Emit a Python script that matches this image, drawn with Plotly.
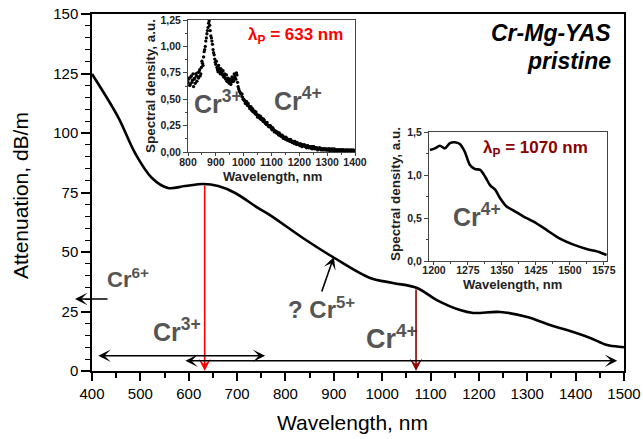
import plotly.graph_objects as go

# ---------------- data ----------------
main_wl = [400, 454, 489, 524, 557, 592, 630, 661, 696, 743, 768, 836, 898, 975,
           1022, 1072, 1113, 1161, 1188, 1244, 1300, 1347, 1382, 1430, 1465, 1496, 1500]
main_att = [124.8, 106.7, 91.6, 81.1, 76.9, 77.7, 78.6, 77.7, 74.8, 68.5, 65.5, 55.9, 47.9, 39.1,
            37.0, 34.9, 29.8, 25.6, 24.4, 24.8, 22.7, 19.3, 17.2, 13.9, 10.9, 10.1, 10.0]

in1_wl = list(range(800, 1401, 4))
in1_sd = [0.66, 0.70, 0.64, 0.72, 0.68, 0.62, 0.70, 0.74, 0.67, 0.71,
          0.76, 0.72, 0.80, 0.84, 0.90, 0.97, 1.05, 1.12, 1.18, 1.24,
          1.15, 1.08, 1.02, 0.94, 0.88, 0.83, 0.80, 0.76, 0.79, 0.74,
          0.77, 0.73, 0.71, 0.74, 0.69, 0.67, 0.70, 0.65, 0.68, 0.66,
          0.70, 0.67, 0.72, 0.69, 0.73, 0.62, 0.58, 0.56, 0.53, 0.52,
          0.50, 0.48, 0.47, 0.45, 0.46, 0.43, 0.42, 0.40, 0.41, 0.38,
          0.37, 0.38, 0.35, 0.34, 0.33, 0.34, 0.31, 0.30, 0.31, 0.28,
          0.27, 0.28, 0.25, 0.24, 0.25, 0.22, 0.23, 0.21, 0.20, 0.19,
          0.19, 0.17, 0.18, 0.16, 0.15, 0.15, 0.14, 0.13, 0.14, 0.12,
          0.12, 0.11, 0.12, 0.10, 0.10, 0.09, 0.10, 0.08, 0.09, 0.08,
          0.07, 0.08, 0.06, 0.07, 0.06, 0.06, 0.05, 0.06, 0.05, 0.05,
          0.04, 0.05, 0.04, 0.05, 0.04, 0.03, 0.04, 0.03, 0.04, 0.03,
          0.03, 0.02, 0.03, 0.03, 0.02, 0.03, 0.02, 0.03, 0.02, 0.02,
          0.03, 0.02, 0.02, 0.01, 0.02, 0.02, 0.01, 0.02, 0.02, 0.01,
          0.02, 0.01, 0.02, 0.01, 0.02, 0.01, 0.01, 0.02, 0.01, 0.01, 0.01]

in1b_wl = list(range(802, 1399, 4))
in1b_sd = [0.69, 0.63, 0.71, 0.66, 0.74, 0.69, 0.65, 0.72, 0.75, 0.70,
           0.78, 0.74, 0.86, 0.82, 0.95, 1.00, 1.08, 1.15, 1.22, 1.20,
           1.10, 1.05, 0.97, 0.92, 0.85, 0.86, 0.78, 0.82, 0.76, 0.79,
           0.75, 0.77, 0.72, 0.70, 0.73, 0.68, 0.66, 0.69, 0.64, 0.71,
           0.68, 0.74, 0.70, 0.75, 0.66, 0.60, 0.57, 0.54, 0.55, 0.50,
           0.49, 0.46, 0.48, 0.44, 0.44, 0.41, 0.43, 0.39, 0.38, 0.39,
           0.36, 0.36, 0.33, 0.35, 0.32, 0.31, 0.32, 0.29, 0.30, 0.27,
           0.26, 0.26, 0.24, 0.25, 0.23, 0.21, 0.22, 0.19, 0.20, 0.18,
           0.18, 0.16, 0.17, 0.15, 0.16, 0.13, 0.14, 0.12, 0.13, 0.11,
           0.12, 0.10, 0.11, 0.09, 0.10, 0.08, 0.09, 0.07, 0.08, 0.07,
           0.06, 0.07, 0.05, 0.06, 0.07, 0.05, 0.04, 0.06, 0.04, 0.05,
           0.04, 0.03, 0.05, 0.03, 0.04, 0.04, 0.02, 0.03, 0.04, 0.02,
           0.03, 0.03, 0.02, 0.03, 0.02, 0.02, 0.03, 0.01, 0.03, 0.02,
           0.01, 0.03, 0.02, 0.02, 0.01, 0.02, 0.02, 0.01, 0.02, 0.02,
           0.01, 0.01, 0.02, 0.01, 0.01, 0.02, 0.01, 0.01, 0.02, 0.01]

in2_wl = [1191, 1202, 1213, 1224, 1235, 1246, 1257, 1268, 1279, 1290, 1302, 1313, 1324,
          1335, 1346, 1361, 1375, 1397, 1419, 1449, 1478, 1508, 1537, 1567, 1581]
in2_sd = [1.29, 1.31, 1.34, 1.31, 1.37, 1.38, 1.36, 1.27, 1.12, 1.07, 1.06, 0.98, 0.88,
          0.83, 0.73, 0.63, 0.59, 0.52, 0.46, 0.36, 0.26, 0.19, 0.14, 0.10, 0.07]

in1_yticks = [0, 0.25, 0.5, 0.75, 1.0, 1.25]
in1_ytext = ["0,00", "0,25", "0,50", "0,75", "1,00", "1,25"]
in1_xticks = [800, 900, 1000, 1100, 1200, 1300, 1400]
in2_yticks = [0, 0.5, 1.0, 1.5]
in2_ytext = ["0,0", "0,5", "1,0", "1,5"]
in2_xticks = [1200, 1275, 1350, 1425, 1500, 1575]

pump1, pump2 = 633, 1070
pump1_att, pump2_att = 78.6, 34.9

# ---------------- layout helpers ----------------
L, R, T, B = 92, 624, 14, 371
W, H = 643, 439
def px(x):
    return (x - L) / (R - L)
def py(y):
    return (B - y) / (B - T)

FONT = "Liberation Sans, Arial, sans-serif"
GRAY = "#555555"
DRED = "#8b0000"

fig = go.Figure()
fig.add_trace(go.Scatter(x=main_wl, y=main_att, mode="lines",
                         line=dict(color="black", width=2.6, shape="spline", smoothing=1.0),
                         xaxis="x", yaxis="y", showlegend=False))
fig.add_trace(go.Scatter(x=in1_wl + in1b_wl, y=in1_sd + in1b_sd, mode="markers",
                         marker=dict(color="black", size=3.3),
                         xaxis="x2", yaxis="y2", showlegend=False, cliponaxis=True))
fig.add_trace(go.Scatter(x=in2_wl, y=in2_sd, mode="lines",
                         line=dict(color="black", width=2.6, shape="spline", smoothing=0.8),
                         xaxis="x3", yaxis="y3", showlegend=False))

inset_ax = dict(showline=True, mirror=True, linecolor="#444", linewidth=1, ticks="outside",
                tickcolor="#444", showgrid=False, zeroline=False, automargin=False)
inset_xfont = dict(family=FONT, size=10.5, color="#222", weight="bold")
inset_yfont = dict(family=FONT, size=10.5, color="#222", weight="bold")

fig.update_layout(
    template="none",
    width=W, height=H, margin=dict(l=L, r=W - R, t=T, b=H - B, pad=0, autoexpand=False),
    paper_bgcolor="white", plot_bgcolor="white",
    font=dict(family=FONT, color="black"),
    xaxis=dict(domain=[0, 1], range=[400, 1500], dtick=100, tick0=400, ticks="outside",
               ticklen=8, tickwidth=1.5, tickcolor="black", showline=True, mirror=True,
               linecolor="black", linewidth=1.5, showgrid=False, zeroline=False, automargin=False,
               tickfont=dict(family=FONT, size=15, color="black"),
               minor=dict(dtick=50, ticks="outside", ticklen=5, tickcolor="black", tickwidth=1.5)),
    yaxis=dict(domain=[0, 1], range=[0, 150], dtick=25, ticks="outside", ticklen=9,
               tickwidth=1.5, tickcolor="black", showline=True, mirror=True,
               linecolor="black", linewidth=1.5, showgrid=False, zeroline=False, automargin=False,
               tickfont=dict(family=FONT, size=15, color="black"),
               minor=dict(dtick=5, ticks="outside", ticklen=5, tickcolor="black", tickwidth=1.2)),
    xaxis2=dict(domain=[px(188), px(355)], anchor="y2", range=[800, 1400], ticklen=3,
                ticklabelstandoff=-3,
                tickvals=in1_xticks, ticktext=[str(v) for v in in1_xticks], tickfont=inset_xfont,
                minor=dict(dtick=50, ticks="outside", ticklen=2, tickcolor="#444"), **inset_ax),
    yaxis2=dict(domain=[py(152), py(20)], anchor="x2", range=[0, 1.25], ticklen=4,
                tickvals=in1_yticks, ticktext=in1_ytext, tickfont=inset_yfont,
                minor=dict(dtick=0.125, ticks="outside", ticklen=2, tickcolor="#444"), **inset_ax),
    xaxis3=dict(domain=[px(429), px(607)], anchor="y3", range=[1189, 1582], ticklen=3,
                ticklabelstandoff=-4,
                tickvals=in2_xticks, ticktext=[str(v) for v in in2_xticks], tickfont=inset_xfont,
                minor=dict(tick0=1200, dtick=37.5, ticks="outside", ticklen=2, tickcolor="#444"), **inset_ax),
    yaxis3=dict(domain=[py(261), py(132)], anchor="x3", range=[0, 1.5], ticklen=4,
                tickvals=in2_yticks, ticktext=in2_ytext, tickfont=inset_yfont,
                minor=dict(dtick=0.25, ticks="outside", ticklen=2, tickcolor="#444"), **inset_ax),
)

ann = []
def text(x, y, s, size, color=GRAY, xanchor="left", bold=True, italic=False, angle=0):
    t = s
    if bold:
        t = "<b>" + t + "</b>"
    if italic:
        t = "<i>" + t + "</i>"
    ann.append(dict(x=px(x), y=py(y), xref="paper", yref="paper", text=t, showarrow=False,
                    xanchor=xanchor, yanchor="middle", textangle=angle,
                    font=dict(family=FONT, size=size, color=color)))

# axis titles
text(352, 422, "Wavelength, nm", 21, color="black", xanchor="center", bold=False)
text(20, 196, "Attenuation, dB/m", 21, color="black", xanchor="center", bold=False, angle=-90)
# inset axis titles
text(272, 176, "Wavelength, nm", 13, color="#222", xanchor="center")
text(151, 86, "Spectral density, a.u.", 13.5, color="#222", xanchor="center", angle=-90)
text(512, 284, "Wavelength, nm", 13, color="#222", xanchor="center")
text(395, 194, "Spectral density, a.u.", 13.5, color="#222", xanchor="center", angle=-90)
# titles
text(613, 33, "Cr-Mg-YAS", 23, color="black", xanchor="right", italic=True)
text(613, 61, "pristine", 23, color="black", xanchor="right", italic=True)
# ion labels
text(105, 278, "Cr<sup>6+</sup>", 22)
text(151, 330, "Cr<sup>3+</sup>", 25)
text(286, 308, "? Cr<sup>5+</sup>", 24)
text(364, 337, "Cr<sup>4+</sup>", 27)
text(192, 102, "Cr<sup>3+</sup>", 25)
text(272, 99, "Cr<sup>4+</sup>", 25)
text(451, 215, "Cr<sup>4+</sup>", 25)
# pump labels
text(246, 36, "λ<sub>P</sub> = 633 nm", 17, color="#ff0000")
text(481, 149, "λ<sub>P</sub> = 1070 nm", 17, color=DRED)

def arrow(x, y, axv, ayv, color="black", width=1.6, both=False, size=1.3):
    d = dict(x=x, y=y, ax=axv, ay=ayv, xref="x", yref="y", axref="x", ayref="y",
             text="", showarrow=True, arrowhead=3, arrowsize=size, arrowwidth=width,
             arrowcolor=color)
    if both:
        d.update(arrowside="end+start", startarrowhead=3, startarrowsize=size)
    ann.append(d)

arrow(pump1, 0, pump1, pump1_att, color="#ff0000", width=1.6)
arrow(pump2, 0, pump2, pump2_att, color=DRED, width=1.6)
arrow(758, 6.4, 410, 6.4, both=True)
arrow(1486, 4.3, 590, 4.3, both=True)
arrow(900, 47.9, 874, 32.8)
# Cr6+ arrow pointing out of the plot
ann.append(dict(x=px(75), y=py(299), xref="paper", yref="paper", ax=34, ay=0,
                text="", showarrow=True, arrowhead=3, arrowsize=1.3, arrowwidth=1.6,
                arrowcolor="black"))

fig.update_layout(annotations=ann)
fig.write_html("out.html", config={"displayModeBar": False},
               post_script="document.body.style.margin='0';document.body.style.overflow='hidden';")
